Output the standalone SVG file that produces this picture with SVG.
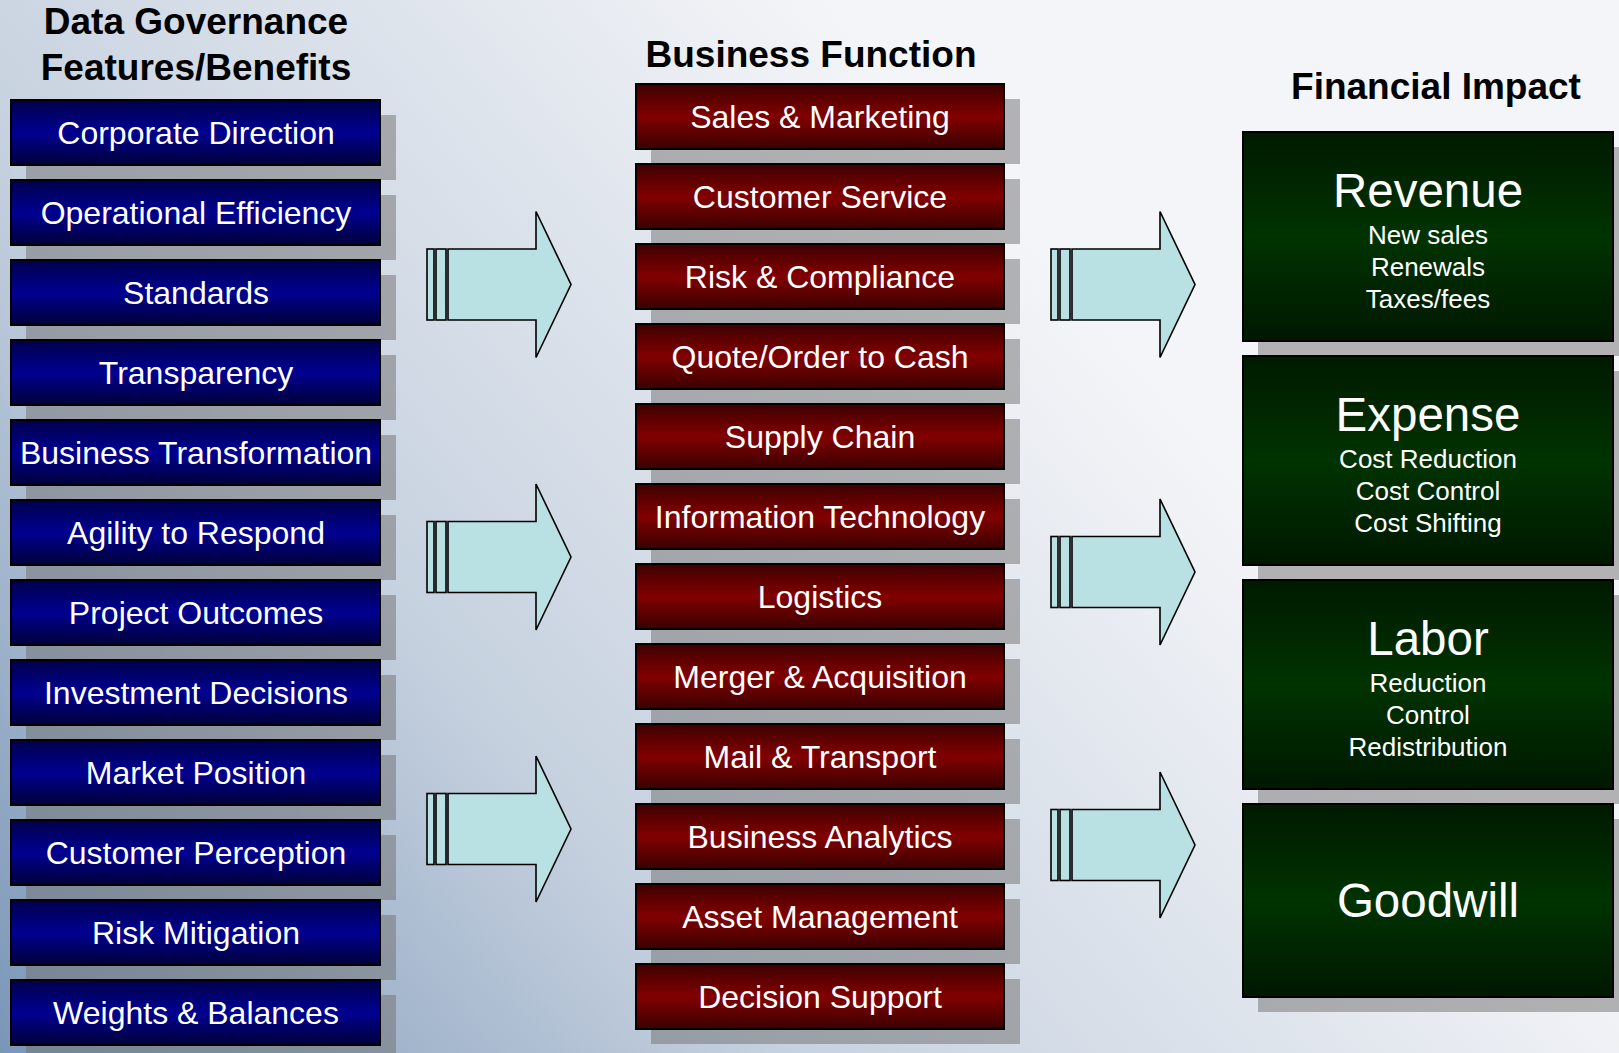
<svg xmlns="http://www.w3.org/2000/svg" width="1619" height="1053" viewBox="0 0 1619 1053">
<defs>
<linearGradient id="bg" gradientUnits="userSpaceOnUse" x1="0" y1="1053" x2="1000" y2="200">
<stop offset="0" stop-color="#7a96b7"/>
<stop offset="0.45" stop-color="#c6d1df"/>
<stop offset="1" stop-color="#f4f5f8"/>
</linearGradient>
<linearGradient id="gBlue" x1="0" y1="0" x2="0" y2="1">
<stop offset="0" stop-color="#00004a"/>
<stop offset="0.5" stop-color="#000092"/>
<stop offset="1" stop-color="#00003a"/>
</linearGradient>
<linearGradient id="gRed" x1="0" y1="0" x2="0" y2="1">
<stop offset="0" stop-color="#3e0000"/>
<stop offset="0.5" stop-color="#820000"/>
<stop offset="1" stop-color="#3a0000"/>
</linearGradient>
<linearGradient id="gGreen" x1="0" y1="0" x2="0" y2="1">
<stop offset="0" stop-color="#001a00"/>
<stop offset="0.5" stop-color="#003300"/>
<stop offset="1" stop-color="#001800"/>
</linearGradient>
<g id="arrow">
<rect x="0" y="-35.5" width="7" height="71"/>
<rect x="9" y="-35.5" width="10" height="71"/>
<path d="M21,-35.5 H109 V-73 L144,0 L109,73 V35.5 H21 Z"/>
</g>
</defs>
<style>
.title{font-family:"Liberation Sans",Arial,sans-serif;font-weight:bold;font-size:37px;fill:#000;text-anchor:middle}
.lbl{font-family:"Liberation Sans",Arial,sans-serif;font-size:32px;fill:#fff;text-anchor:middle}
.big{font-family:"Liberation Sans",Arial,sans-serif;font-size:47.5px;fill:#fff;text-anchor:middle}
.sub{font-family:"Liberation Sans",Arial,sans-serif;font-size:26px;fill:#fff;text-anchor:middle}
.sh{fill:#707070;fill-opacity:0.5}
.blue{fill:url(#gBlue);stroke:#000;stroke-width:2}
.red{fill:url(#gRed);stroke:#000;stroke-width:2}
.green{fill:url(#gGreen);stroke:#000;stroke-width:2}
.arr{fill:#b9e0e3;stroke:#000;stroke-width:1.6;stroke-linejoin:miter}
</style>
<rect x="0" y="0" width="1619" height="1053" fill="url(#bg)"/>

<g id="titles">
<text class="title" x="196" y="34">Data Governance</text>
<text class="title" x="196" y="80">Features/Benefits</text>
<text class="title" x="811" y="67">Business Function</text>
<text class="title" x="1436" y="99">Financial Impact</text>
</g>

<g id="shadows">
<rect class="sh" x="26" y="115" width="370" height="65"/>
<rect class="sh" x="26" y="195" width="370" height="65"/>
<rect class="sh" x="26" y="275" width="370" height="65"/>
<rect class="sh" x="26" y="355" width="370" height="65"/>
<rect class="sh" x="26" y="435" width="370" height="65"/>
<rect class="sh" x="26" y="515" width="370" height="65"/>
<rect class="sh" x="26" y="595" width="370" height="65"/>
<rect class="sh" x="26" y="675" width="370" height="65"/>
<rect class="sh" x="26" y="755" width="370" height="65"/>
<rect class="sh" x="26" y="835" width="370" height="65"/>
<rect class="sh" x="26" y="915" width="370" height="65"/>
<rect class="sh" x="26" y="995" width="370" height="65"/>
<rect class="sh" x="651" y="99" width="369" height="65"/>
<rect class="sh" x="651" y="179" width="369" height="65"/>
<rect class="sh" x="651" y="259" width="369" height="65"/>
<rect class="sh" x="651" y="339" width="369" height="65"/>
<rect class="sh" x="651" y="419" width="369" height="65"/>
<rect class="sh" x="651" y="499" width="369" height="65"/>
<rect class="sh" x="651" y="579" width="369" height="65"/>
<rect class="sh" x="651" y="659" width="369" height="65"/>
<rect class="sh" x="651" y="739" width="369" height="65"/>
<rect class="sh" x="651" y="819" width="369" height="65"/>
<rect class="sh" x="651" y="899" width="369" height="65"/>
<rect class="sh" x="651" y="979" width="369" height="65"/>
<rect class="sh" x="1258" y="147" width="370" height="209"/>
<rect class="sh" x="1258" y="371" width="370" height="209"/>
<rect class="sh" x="1258" y="595" width="370" height="209"/>
<rect class="sh" x="1258" y="819" width="370" height="193"/>
</g>

<g id="connectors">
<use href="#arrow" class="arr" x="427" y="284.5"/>
<use href="#arrow" class="arr" x="427" y="557"/>
<use href="#arrow" class="arr" x="427" y="829"/>
<use href="#arrow" class="arr" x="1051" y="284.5"/>
<use href="#arrow" class="arr" x="1051" y="572"/>
<use href="#arrow" class="arr" x="1051" y="845"/>
</g>

<g id="f1"><rect class="blue" x="11" y="100" width="369" height="65"/><text class="lbl" x="196" y="144">Corporate Direction</text></g>
<g id="f2"><rect class="blue" x="11" y="180" width="369" height="65"/><text class="lbl" x="196" y="224">Operational Efficiency</text></g>
<g id="f3"><rect class="blue" x="11" y="260" width="369" height="65"/><text class="lbl" x="196" y="304">Standards</text></g>
<g id="f4"><rect class="blue" x="11" y="340" width="369" height="65"/><text class="lbl" x="196" y="384">Transparency</text></g>
<g id="f5"><rect class="blue" x="11" y="420" width="369" height="65"/><text class="lbl" x="196" y="464">Business Transformation</text></g>
<g id="f6"><rect class="blue" x="11" y="500" width="369" height="65"/><text class="lbl" x="196" y="544">Agility to Respond</text></g>
<g id="f7"><rect class="blue" x="11" y="580" width="369" height="65"/><text class="lbl" x="196" y="624">Project Outcomes</text></g>
<g id="f8"><rect class="blue" x="11" y="660" width="369" height="65"/><text class="lbl" x="196" y="704">Investment Decisions</text></g>
<g id="f9"><rect class="blue" x="11" y="740" width="369" height="65"/><text class="lbl" x="196" y="784">Market Position</text></g>
<g id="f10"><rect class="blue" x="11" y="820" width="369" height="65"/><text class="lbl" x="196" y="864">Customer Perception</text></g>
<g id="f11"><rect class="blue" x="11" y="900" width="369" height="65"/><text class="lbl" x="196" y="944">Risk Mitigation</text></g>
<g id="f12"><rect class="blue" x="11" y="980" width="369" height="65"/><text class="lbl" x="196" y="1024">Weights &amp; Balances</text></g>

<g id="b1"><rect class="red" x="636" y="84" width="368" height="65"/><text class="lbl" x="820" y="128">Sales &amp; Marketing</text></g>
<g id="b2"><rect class="red" x="636" y="164" width="368" height="65"/><text class="lbl" x="820" y="208">Customer Service</text></g>
<g id="b3"><rect class="red" x="636" y="244" width="368" height="65"/><text class="lbl" x="820" y="288">Risk &amp; Compliance</text></g>
<g id="b4"><rect class="red" x="636" y="324" width="368" height="65"/><text class="lbl" x="820" y="368">Quote/Order to Cash</text></g>
<g id="b5"><rect class="red" x="636" y="404" width="368" height="65"/><text class="lbl" x="820" y="448">Supply Chain</text></g>
<g id="b6"><rect class="red" x="636" y="484" width="368" height="65"/><text class="lbl" x="820" y="528">Information Technology</text></g>
<g id="b7"><rect class="red" x="636" y="564" width="368" height="65"/><text class="lbl" x="820" y="608">Logistics</text></g>
<g id="b8"><rect class="red" x="636" y="644" width="368" height="65"/><text class="lbl" x="820" y="688">Merger &amp; Acquisition</text></g>
<g id="b9"><rect class="red" x="636" y="724" width="368" height="65"/><text class="lbl" x="820" y="768">Mail &amp; Transport</text></g>
<g id="b10"><rect class="red" x="636" y="804" width="368" height="65"/><text class="lbl" x="820" y="848">Business Analytics</text></g>
<g id="b11"><rect class="red" x="636" y="884" width="368" height="65"/><text class="lbl" x="820" y="928">Asset Management</text></g>
<g id="b12"><rect class="red" x="636" y="964" width="368" height="65"/><text class="lbl" x="820" y="1008">Decision Support</text></g>

<g id="revenue"><rect class="green" x="1243" y="132" width="370" height="209"/>
<text class="big" x="1428" y="207">Revenue</text>
<text class="sub" x="1428" y="244">New sales</text>
<text class="sub" x="1428" y="276">Renewals</text>
<text class="sub" x="1428" y="308">Taxes/fees</text></g>
<g id="expense"><rect class="green" x="1243" y="356" width="370" height="209"/>
<text class="big" x="1428" y="431">Expense</text>
<text class="sub" x="1428" y="468">Cost Reduction</text>
<text class="sub" x="1428" y="500">Cost Control</text>
<text class="sub" x="1428" y="532">Cost Shifting</text></g>
<g id="labor"><rect class="green" x="1243" y="580" width="370" height="209"/>
<text class="big" x="1428" y="655">Labor</text>
<text class="sub" x="1428" y="692">Reduction</text>
<text class="sub" x="1428" y="724">Control</text>
<text class="sub" x="1428" y="756">Redistribution</text></g>
<g id="goodwill"><rect class="green" x="1243" y="804" width="370" height="193"/>
<text class="big" x="1428" y="917">Goodwill</text></g>
</svg>
